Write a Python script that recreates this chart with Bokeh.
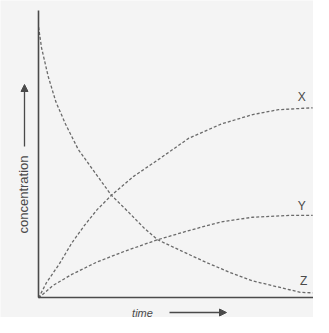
from math import pi
from bokeh.plotting import figure
from bokeh.models import Range1d, LinearAxis, FixedTicker, Label, Arrow, NormalHead
from bokeh.core.properties import value
from bokeh.embed import file_html
from bokeh.resources import INLINE

# ---- data (time and concentration in arbitrary units) ----
series_names = ["X", "Y", "Z"]
x_time = [0.0, 0.29, 0.75, 1.21, 1.67, 2.13, 2.65, 3.46, 4.33, 5.47, 6.64, 7.79, 8.72, 9.97]
x_conc = [0.0, 0.057, 0.125, 0.203, 0.268, 0.326, 0.379, 0.449, 0.509, 0.590, 0.642, 0.677, 0.695, 0.702]
y_time = [0.0, 0.52, 1.21, 2.13, 3.17, 4.33, 5.47, 6.64, 7.79, 9.17, 9.97]
y_conc = [0.0, 0.046, 0.087, 0.133, 0.174, 0.215, 0.249, 0.281, 0.298, 0.305, 0.305]
z_time = [0.0, 0.11, 0.35, 0.63, 0.98, 1.44, 2.02, 2.65, 3.29, 3.86, 4.33, 5.19, 6.06, 6.92, 7.79, 9.52, 9.97]
z_conc = [1.0, 0.923, 0.818, 0.724, 0.642, 0.549, 0.467, 0.379, 0.315, 0.256, 0.215, 0.174, 0.133, 0.096, 0.063, 0.021, 0.019]
x_label_text = "time"
y_label_text = "concentration"

LINE = "#6a6a6a"
INK = "#4a4a4a"

p = figure(width=313, height=317, output_backend="svg", toolbar_location=None,
           x_axis_type=None, y_axis_type=None,
           x_range=Range1d(-1.384, 10.0), y_range=Range1d(-0.072, 1.098),
           min_border=0, background_fill_color="#f4f4f4", border_fill_color="#f4f4f4")
p.outline_line_color = None

# axes as real axes pinned at zero
yax = LinearAxis(fixed_location=0, bounds=(0, 1.06), ticker=FixedTicker(ticks=[]),
                 axis_line_color=INK, axis_line_width=1.6,
                 major_tick_line_color=None, minor_tick_line_color=None,
                 major_label_text_font_size="0px")
xax = LinearAxis(fixed_location=0, bounds=(0, 10.5), ticker=FixedTicker(ticks=[]),
                 axis_line_color=INK, axis_line_width=1.6,
                 major_tick_line_color=None, minor_tick_line_color=None,
                 major_label_text_font_size="0px")
p.add_layout(yax, "left")
p.add_layout(xax, "below")

series = [(x_time, x_conc), (y_time, y_conc), (z_time, z_conc)]
label_offsets = {"X": (-11, -11), "Y": (-11, -9), "Z": (-9, -12)}
for name, (t, c) in zip(series_names, series):
    p.line(t, c, line_color=LINE, line_width=1.3, line_dash="3 2")
    dx, dy = label_offsets[name]
    p.text(x=[t[-1]], y=[c[-1]], text=[name], x_offset=dx, y_offset=dy,
           text_align="center", text_baseline="middle",
           text_font=value("Liberation Sans"), text_font_size="12px", text_color=INK)

# axis titles with arrows
p.add_layout(Label(x=23, y=123, x_units="screen", y_units="screen", text=y_label_text,
                   angle=pi / 2, text_align="center", text_baseline="middle",
                   text_font="Liberation Sans", text_font_size="13px", text_color=INK))
p.add_layout(Arrow(x_start=24, y_start=171, x_end=24, y_end=233,
                   start_units="screen", end_units="screen",
                   line_color=INK, line_width=1.3,
                   end=NormalHead(size=7, fill_color=INK, line_color=INK)))
p.add_layout(Label(x=142, y=5, x_units="screen", y_units="screen", text=x_label_text,
                   text_align="center", text_baseline="middle", text_font_style="italic",
                   text_font="Liberation Sans", text_font_size="11px", text_color=INK))
p.add_layout(Arrow(x_start=169, y_start=5, x_end=226, y_end=5,
                   start_units="screen", end_units="screen",
                   line_color=INK, line_width=1.3,
                   end=NormalHead(size=7, fill_color=INK, line_color=INK)))

open("out.html", "w").write(file_html(p, INLINE))
